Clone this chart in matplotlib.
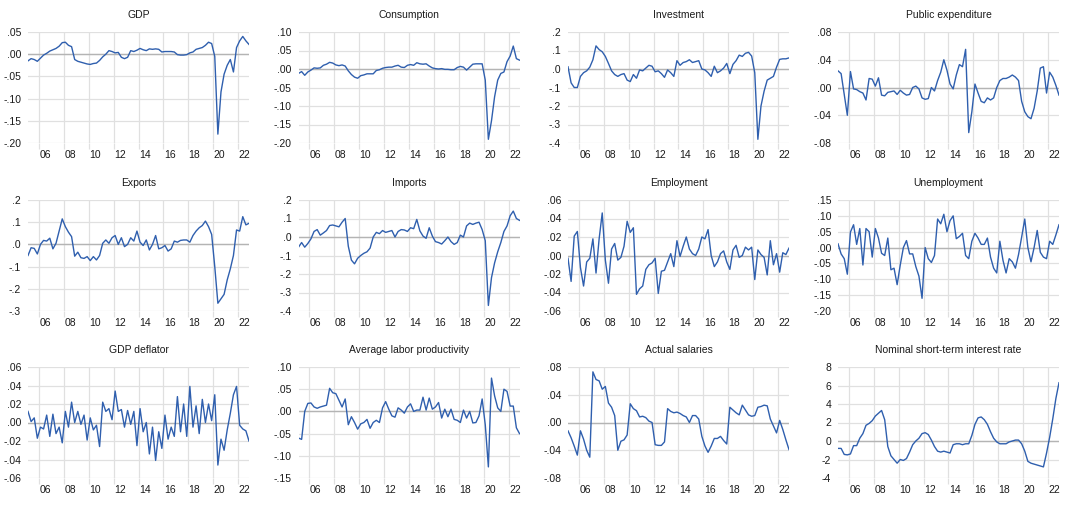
import numpy as np
import pandas as pd
import matplotlib
matplotlib.use('Agg')
import matplotlib.pyplot as plt
from matplotlib.ticker import FixedLocator, FixedFormatter, NullFormatter

# quarterly sample 2005Q1 - 2022Q4
quarters = pd.period_range('2005Q1', '2022Q4', freq='Q')

gdp = [-0.015, -0.010, -0.012, -0.016, -0.009, -0.002, 0.002, 0.007, 0.010, 0.013,
       0.018, 0.026, 0.027, 0.020, 0.017, -0.012, -0.016, -0.018, -0.020, -0.022,
       -0.023, -0.021, -0.020, -0.014, -0.006, 0.000, 0.008, 0.006, 0.003, 0.004,
       -0.007, -0.010, -0.007, 0.008, 0.006, 0.009, 0.013, 0.010, 0.008, 0.012,
       0.011, 0.012, 0.011, 0.005, 0.006, 0.006, 0.006, 0.005, -0.001, -0.002,
       -0.002, -0.001, 0.003, 0.005, 0.011, 0.013, 0.015, 0.020, 0.027, 0.024,
       -0.005, -0.180, -0.085, -0.045, -0.025, -0.012, -0.040, 0.015, 0.030, 0.040,
       0.030, 0.022]

consumption = [-0.012, -0.007, -0.017, -0.008, -0.003, 0.003, 0.002, 0.003, 0.010, 0.013,
               0.018, 0.016, 0.011, 0.009, 0.011, 0.008, -0.005, -0.015, -0.022, -0.025,
               -0.018, -0.016, -0.013, -0.013, -0.013, -0.004, -0.002, 0.002, 0.004, 0.005,
               0.005, 0.008, 0.010, 0.005, 0.004, 0.010, 0.012, 0.010, 0.017, 0.014,
               0.013, 0.014, 0.008, 0.003, 0.001, 0.000, 0.001, -0.001, -0.001, -0.002,
               -0.002, 0.004, 0.007, 0.005, -0.003, 0.005, 0.013, 0.014, 0.014, 0.014,
               -0.030, -0.190, -0.140, -0.075, -0.030, -0.012, -0.008, 0.020, 0.035, 0.062,
               0.028, 0.024]

investment = [0.012, -0.075, -0.100, -0.100, -0.040, -0.020, -0.010, 0.010, 0.050, 0.125,
              0.105, 0.093, 0.068, 0.030, -0.010, -0.030, -0.040, -0.030, -0.025, -0.060,
              -0.068, -0.030, -0.050, -0.005, -0.010, 0.005, 0.020, 0.015, -0.015, -0.010,
              -0.025, -0.045, -0.005, -0.020, -0.040, 0.045, 0.020, 0.035, 0.040, 0.050,
              0.035, 0.040, 0.045, 0.000, -0.005, -0.020, -0.040, 0.015, -0.020, -0.010,
              0.005, 0.030, -0.025, 0.025, 0.045, 0.075, 0.068, 0.085, 0.090, 0.070,
              -0.020, -0.380, -0.200, -0.120, -0.060, -0.050, -0.040, 0.010, 0.052, 0.055,
              0.055, 0.060]

public_exp = [0.024, 0.020, -0.010, -0.040, 0.023, -0.002, -0.003, -0.006, -0.008, -0.018,
              0.013, 0.012, 0.002, 0.014, -0.011, -0.012, -0.007, -0.006, -0.005, -0.010,
              -0.004, -0.008, -0.011, -0.010, 0.000, 0.002, -0.002, -0.015, -0.017, -0.016,
              0.000, -0.005, 0.010, 0.022, 0.040, 0.025, 0.005, -0.002, 0.018, 0.033,
              0.030, 0.055, -0.065, -0.035, 0.005, -0.008, -0.020, -0.022, -0.015, -0.018,
              -0.015, 0.000, 0.010, 0.013, 0.013, 0.015, 0.018, 0.015, 0.010, -0.020,
              -0.035, -0.042, -0.045, -0.030, -0.005, 0.028, 0.030, -0.008, 0.022, 0.015,
              0.003, -0.011]

exports = [-0.050, -0.015, -0.018, -0.043, 0.000, 0.018, 0.015, 0.028, -0.020, 0.005,
           0.060, 0.115, 0.080, 0.055, 0.035, -0.053, -0.035, -0.060, -0.063, -0.055,
           -0.073, -0.055, -0.070, -0.050, 0.005, 0.020, 0.005, 0.030, 0.040, 0.000,
           0.030, -0.010, 0.000, 0.030, 0.015, 0.060, 0.010, -0.005, 0.020, -0.025,
           0.000, 0.040, -0.020, -0.015, -0.005, -0.030, -0.020, 0.015, 0.010, 0.018,
           0.020, 0.020, 0.010, 0.040, 0.060, 0.075, 0.085, 0.105, 0.080, 0.045,
           -0.100, -0.265, -0.245, -0.225, -0.160, -0.110, -0.050, 0.065, 0.060, 0.125,
           0.088, 0.095]

imports = [-0.055, -0.030, -0.055, -0.035, -0.010, 0.030, 0.040, 0.010, 0.022, 0.035,
           0.062, 0.065, 0.060, 0.055, 0.080, 0.100, -0.050, -0.125, -0.145, -0.115,
           -0.100, -0.088, -0.080, -0.060, 0.000, 0.025, 0.018, 0.035, 0.025, 0.030,
           0.035, 0.000, 0.030, 0.040, 0.038, 0.030, 0.050, 0.045, 0.095, 0.033,
           0.005, -0.007, 0.050, 0.005, -0.025, -0.030, -0.038, -0.020, 0.000, -0.025,
           -0.040, -0.030, 0.010, 0.000, 0.060, 0.075, 0.068, 0.075, 0.080, 0.040,
           -0.020, -0.370, -0.220, -0.140, -0.080, -0.030, 0.030, 0.060, 0.115, 0.140,
           0.100, 0.090]

employment = [-0.003, -0.028, 0.021, 0.026, -0.013, -0.033, -0.007, -0.003, 0.018, -0.019,
              0.018, 0.046, -0.005, -0.030, 0.007, 0.013, -0.005, -0.002, 0.010, 0.037,
              0.025, 0.030, -0.042, -0.036, -0.033, -0.015, -0.010, -0.008, -0.003, -0.041,
              -0.017, -0.016, -0.007, 0.002, -0.012, 0.016, -0.001, 0.010, 0.020, 0.007,
              0.002, 0.000, 0.007, 0.020, 0.018, 0.028, 0.000, -0.012, -0.007, 0.002,
              0.005, -0.007, -0.015, 0.006, 0.011, -0.002, 0.000, 0.009, 0.006, 0.009,
              -0.026, 0.006, 0.001, -0.002, -0.021, 0.016, -0.010, 0.002, -0.018, 0.003,
              0.001, 0.008]

unemployment = [0.012, -0.020, -0.035, -0.084, 0.049, 0.072, 0.010, 0.060, -0.055, 0.060,
                0.050, -0.030, 0.060, 0.030, -0.018, -0.025, 0.030, -0.070, -0.065, -0.117,
                -0.055, 0.000, 0.022, -0.020, -0.020, -0.060, -0.090, -0.160, 0.000, -0.035,
                -0.047, -0.025, 0.090, 0.075, 0.105, 0.050, 0.085, 0.100, 0.028, 0.035,
                0.045, -0.025, -0.035, 0.020, 0.045, 0.030, 0.010, 0.010, 0.030, -0.030,
                -0.065, -0.080, 0.020, -0.040, -0.080, -0.035, -0.045, -0.065, -0.022, 0.033,
                0.090, 0.000, -0.045, 0.000, 0.054, -0.015, -0.030, -0.035, 0.020, 0.010,
                0.040, 0.072]

gdp_deflator = [0.012, 0.001, 0.005, -0.017, -0.005, -0.007, 0.008, -0.015, 0.009, -0.012,
                -0.005, -0.022, 0.012, -0.005, 0.022, 0.000, 0.012, -0.002, 0.008, -0.019,
                0.005, -0.008, -0.003, -0.026, 0.022, 0.012, 0.015, 0.003, 0.034, 0.012,
                0.014, -0.005, 0.013, -0.002, 0.012, -0.025, 0.015, -0.010, 0.000, -0.034,
                -0.005, -0.041, -0.010, -0.028, 0.008, -0.018, -0.005, -0.015, 0.028, -0.010,
                0.020, -0.015, 0.039, -0.005, 0.018, -0.012, 0.025, 0.000, 0.020, 0.002,
                0.030, -0.046, -0.018, -0.030, -0.008, 0.010, 0.030, 0.039, -0.003, -0.007,
                -0.009, -0.020]

productivity = [-0.060, -0.063, 0.000, 0.018, 0.019, 0.010, 0.007, 0.010, 0.012, 0.014,
                0.052, 0.042, 0.040, 0.025, 0.010, 0.028, -0.030, -0.012, -0.025, -0.040,
                -0.028, -0.025, -0.018, -0.038, -0.025, -0.020, -0.025, 0.008, 0.022, 0.005,
                -0.010, -0.013, 0.008, 0.003, -0.004, 0.010, 0.017, 0.000, 0.003, 0.003,
                0.032, 0.003, 0.030, 0.005, 0.010, 0.020, -0.015, 0.005, -0.012, 0.005,
                -0.018, -0.020, -0.025, 0.003, -0.015, 0.000, -0.026, -0.025, -0.010, 0.028,
                -0.030, -0.125, 0.075, 0.035, 0.008, 0.000, 0.050, 0.045, 0.012, 0.012,
                -0.037, -0.050]

salaries = [-0.012, -0.022, -0.034, -0.047, -0.012, -0.024, -0.040, -0.050, 0.073, 0.062,
            0.060, 0.048, 0.052, 0.028, 0.022, 0.010, -0.040, -0.027, -0.025, -0.018,
            0.027, 0.020, 0.017, 0.008, 0.009, 0.007, 0.002, 0.000, -0.032, -0.033,
            -0.033, -0.028, 0.020, 0.016, 0.014, 0.015, 0.013, 0.010, 0.008, 0.000,
            0.010, 0.010, 0.005, -0.020, -0.034, -0.043, -0.034, -0.023, -0.023, -0.020,
            -0.026, -0.031, 0.022, 0.018, 0.014, 0.011, 0.025, 0.018, 0.011, 0.009,
            0.010, 0.022, 0.023, 0.025, 0.024, 0.005, -0.005, -0.015, 0.003, -0.010,
            -0.025, -0.039]

interest_rate = [-0.8, -0.8, -1.45, -1.5, -1.4, -0.5, -0.5, 0.3, 0.8, 1.7,
                 1.9, 2.2, 2.7, 3.0, 3.3, 2.3, -0.6, -1.6, -2.0, -2.4,
                 -2.0, -2.1, -1.9, -1.2, -0.4, 0.0, 0.3, 0.8, 0.9, 0.7,
                 0.1, -0.6, -1.1, -1.2, -1.1, -1.2, -1.3, -0.4, -0.3, -0.3,
                 -0.4, -0.3, -0.3, 0.6, 1.8, 2.5, 2.6, 2.3, 1.8, 1.0,
                 0.3, -0.1, -0.3, -0.3, -0.3, -0.1, 0.0, 0.1, 0.1, -0.3,
                 -1.1, -2.2, -2.4, -2.5, -2.6, -2.7, -2.8, -1.3, 0.4, 2.4,
                 4.6, 6.3]

# title, series, (ymin, ymax, step), decimals on tick labels
panels = [
    ('GDP', gdp, (-0.20, 0.05, 0.05), 2),
    ('Consumption', consumption, (-0.20, 0.10, 0.05), 2),
    ('Investment', investment, (-0.4, 0.2, 0.1), 1),
    ('Public expenditure', public_exp, (-0.08, 0.08, 0.04), 2),
    ('Exports', exports, (-0.3, 0.2, 0.1), 1),
    ('Imports', imports, (-0.4, 0.2, 0.1), 1),
    ('Employment', employment, (-0.06, 0.06, 0.02), 2),
    ('Unemployment', unemployment, (-0.20, 0.15, 0.05), 2),
    ('GDP deflator', gdp_deflator, (-0.06, 0.06, 0.02), 2),
    ('Average labor productivity', productivity, (-0.15, 0.10, 0.05), 2),
    ('Actual salaries', salaries, (-0.08, 0.08, 0.04), 2),
    ('Nominal short-term interest rate', interest_rate, (-4, 8, 2), 0),
]

LINE = '#2f5fae'
GRID = '#e0e0e0'
ZERO = '#b4b4b4'
TEXT = '#1a1a1a'
FS = 7.5

plt.rcParams['font.family'] = ['Liberation Sans', 'DejaVu Sans']


def fmt_tick(v, d):
    s = f"{v:.{d}f}"
    if d > 0:
        s = s.replace('0.', '.', 1)
    if s in ('-0', '-.0', '-.00'):
        s = s.replace('-', '')
    return s


# position of each quarter (middle of the quarter)
x = np.array([p.year + (p.quarter - 0.5) / 4 for p in quarters])

fig = plt.figure(figsize=(10.79, 5.23), dpi=100)

col_left = [28, 298.5, 568, 838]
row_top = [32, 200, 367]
ax_w, ax_h = 221, 111
W, H = 1079, 523

for k, (title, values, (lo, hi, step), dec) in enumerate(panels):
    r, c = divmod(k, 4)
    ax = fig.add_axes([col_left[c] / W, 1 - (row_top[r] + ax_h) / H, ax_w / W, ax_h / H])

    ax.plot(x, values, color=LINE, lw=1.0, zorder=3)
    ax.axhline(0, color=ZERO, lw=1.0, zorder=2)

    yt = np.round(np.arange(lo, hi + step / 2, step), 6)
    ax.set_ylim(lo, hi)
    ax.set_yticks(yt)
    ax.set_yticklabels([fmt_tick(v, dec) for v in yt])

    years = np.arange(2006, 2023, 2)
    ax.set_xlim(x[0], x[-1])
    ax.xaxis.set_major_locator(FixedLocator(years))
    ax.xaxis.set_major_formatter(NullFormatter())
    ax.xaxis.set_minor_locator(FixedLocator(years + 0.5))
    ax.xaxis.set_minor_formatter(FixedFormatter([f"{y % 100:02d}" for y in years]))

    ax.grid(True, which='major', color=GRID, lw=0.9, zorder=1)
    ax.set_axisbelow(True)
    for s in ax.spines.values():
        s.set_visible(False)

    ax.tick_params(axis='y', length=0, pad=5, labelsize=FS, labelcolor=TEXT)
    ax.tick_params(axis='x', which='major', length=4, width=0.9, color=GRID, direction='out')
    ax.tick_params(axis='x', which='minor', length=0, pad=5, labelsize=FS, labelcolor=TEXT)

    ax.set_title(title, fontsize=FS, color=TEXT, pad=10)

fig.savefig('out.png', dpi=100)
